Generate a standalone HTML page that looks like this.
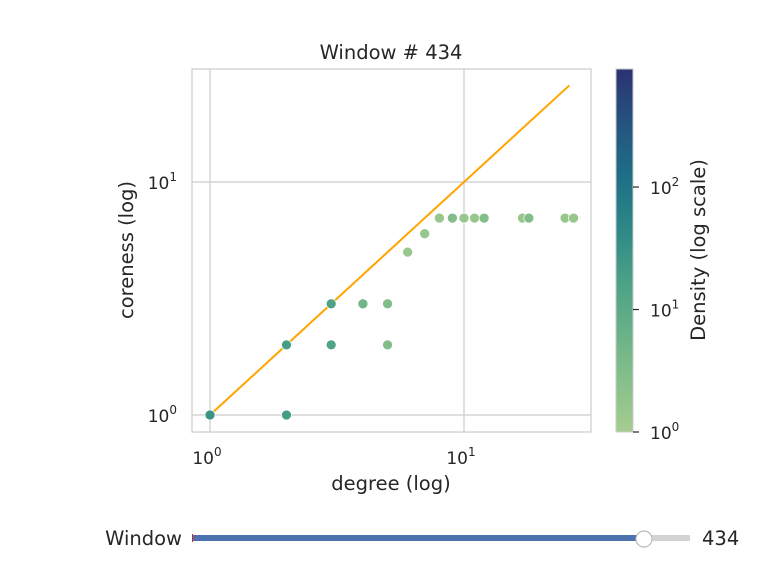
<!DOCTYPE html>
<html><head><meta charset="utf-8"><style>
body{margin:0;background:#fff;}
svg{font-family:"DejaVu Sans","Liberation Sans",sans-serif;}
</style></head><body>
<svg id="chart" width="768" height="576" xmlns="http://www.w3.org/2000/svg">
<defs>
<linearGradient id="crest" x1="0" y1="1" x2="0" y2="0">
<stop offset="0" stop-color="#a5cd90"/><stop offset="0.2" stop-color="#79b989"/>
<stop offset="0.4" stop-color="#4ea387"/><stop offset="0.55" stop-color="#2e8a87"/>
<stop offset="0.7" stop-color="#1e6f86"/><stop offset="0.85" stop-color="#25547f"/>
<stop offset="1" stop-color="#2c3172"/></linearGradient>
</defs>
<g id="plot"></g>
</svg>
<script>
const degree=[1,2,2,3,3,4,5,5,6,7,8,9,10,11,12,17,18,25,27];
const coreness=[1,1,2,2,3,3,3,2,5,6,7,7,7,7,7,7,7,7,7];
const density=[30,20,20,15,15,5,3,3,1.5,1.5,1.5,3,1.5,1.5,3,1.5,3,1.5,1.5];
const lineDeg=[1,26];
const xTicks=[1,10];const yTicks=[1,10];const cTicks=[1,10,100];
const NS="http://www.w3.org/2000/svg";
const g=document.getElementById('plot');
const L=192,R=591,T=69,B=432;
const xmin=-0.0709,xmax=1.5,ymin=-0.073,ymax=1.485;
const sx=v=>L+(Math.log10(v)-xmin)/(xmax-xmin)*(R-L);
const sy=v=>B-(Math.log10(v)-ymin)/(ymax-ymin)*(B-T);
const cT=69,cB=432,cmax=Math.log10(920);
const sc=v=>cB-Math.log10(v)/cmax*(cB-cT);
function el(t,a,txt){const e=document.createElementNS(NS,t);for(const k in a)e.setAttribute(k,a[k]);if(txt!==undefined)e.textContent=txt;g.appendChild(e);return e;}
const stops=[[0,[165,205,144]],[0.2,[121,185,137]],[0.4,[78,163,135]],[0.55,[46,138,135]],[0.7,[30,111,134]],[0.85,[37,84,127]],[1,[44,49,114]]];
function cmap(v){const t=Math.min(1,Math.log10(v)/cmax);for(let i=1;i<stops.length;i++){if(t<=stops[i][0]){const a=stops[i-1],b=stops[i];const f=(t-a[0])/(b[0]-a[0]);return 'rgb('+a[1].map((c,j)=>Math.round(c+(b[1][j]-c)*f)).join(',')+')';}}return 'rgb(44,49,114)';}
xTicks.forEach((v,i)=>{let e=el('line',{x1:sx(v),x2:sx(v),y1:T,y2:B,stroke:'#cccccc','stroke-width':1.2});

let t=el('text',{x:sx(v)-3,y:464,'text-anchor':'middle','font-size':17,fill:'#262626'});t.innerHTML='10<tspan dy="-8" font-size="12">'+i+'</tspan>';
});
yTicks.forEach((v,i)=>{let e=el('line',{x1:L,x2:R,y1:sy(v),y2:sy(v),stroke:'#cccccc','stroke-width':1.2});

let t=el('text',{x:177,y:sy(v)+7,'text-anchor':'end','font-size':17,fill:'#262626'});t.innerHTML='10<tspan dy="-8" font-size="12">'+i+'</tspan>';
});
let fr=el('rect',{x:L,y:T,width:R-L,height:B-T,fill:'none',stroke:'#cccccc','stroke-width':1.2});

let ln=el('line',{x1:sx(lineDeg[0]),y1:sy(lineDeg[0]),x2:sx(lineDeg[1]),y2:sy(lineDeg[1]),stroke:'#ffa500','stroke-width':2});

degree.forEach((d,i)=>{let c=el('circle',{cx:sx(d),cy:sy(coreness[i]),r:5,fill:cmap(density[i]),stroke:'#fff','stroke-width':0.7});
});
let ti=el('text',{x:391,y:59,'text-anchor':'middle','font-size':19.5,fill:'#262626'},'Window # 434');

let xl=el('text',{x:391,y:490,'text-anchor':'middle','font-size':19.5,fill:'#262626'},'degree (log)');

let yl=el('text',{x:0,y:0,'text-anchor':'middle','font-size':19.5,fill:'#262626',transform:'translate(133,250) rotate(-90)'},'coreness (log)');

let cb=el('rect',{x:616,y:cT,width:17,height:cB-cT,fill:'url(#crest)',stroke:'#cccccc','stroke-width':1});

cTicks.forEach((v,i)=>{let k=el('line',{x1:633,x2:639,y1:sc(v),y2:sc(v),stroke:'#262626','stroke-width':1.2});

let t=el('text',{x:650,y:sc(v)+7,'font-size':17,fill:'#262626'});t.innerHTML='10<tspan dy="-8" font-size="12">'+i+'</tspan>';
});
let cl=el('text',{x:0,y:0,'text-anchor':'middle','font-size':19.5,fill:'#262626',transform:'translate(705,250) rotate(-90)'},'Density (log scale)');

let sl=el('text',{x:182,y:545,'text-anchor':'end','font-size':19.5,fill:'#262626'},'Window');

let tr=el('rect',{x:192,y:535,width:498,height:6,fill:'#d3d3d3'});

let fl=el('rect',{x:192,y:535,width:452,height:6,fill:'#4c72b0'});

let mk=el('line',{x1:192.5,x2:192.5,y1:534,y2:542,stroke:'#d62728','stroke-width':1});

let hd=el('circle',{cx:644,cy:539,r:8,fill:'#fff',stroke:'#bbbbbb','stroke-width':1.2});

let sv=el('text',{x:702,y:545,'font-size':19.5,fill:'#262626'},'434');

</script>
</body></html>
